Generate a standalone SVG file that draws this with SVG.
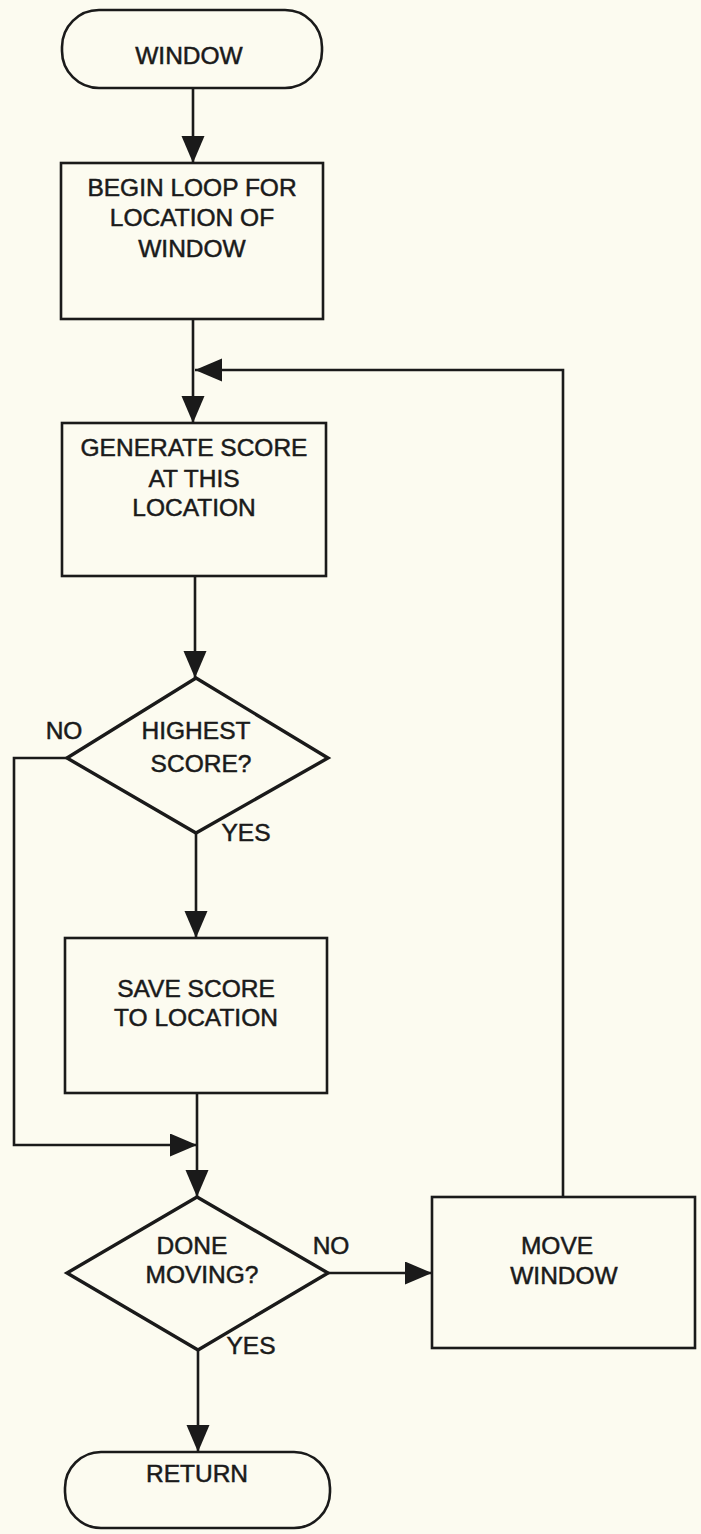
<svg xmlns="http://www.w3.org/2000/svg" width="701" height="1534" viewBox="0 0 701 1534">
<style>
.shape{fill:none;stroke:#1a1a1a;stroke-width:2.6}
.dia{fill:none;stroke:#1a1a1a;stroke-width:3.4;stroke-linejoin:miter}
.conn{fill:none;stroke:#1a1a1a;stroke-width:2.6}
text{font-family:"Liberation Sans",Arial,sans-serif;font-size:24.5px;fill:#1a1a1a;stroke:#1a1a1a;stroke-width:0.5;text-anchor:middle;dominant-baseline:central}
</style>
<defs>
<marker id="arr" markerUnits="userSpaceOnUse" markerWidth="28" markerHeight="24" refX="27" refY="11.5" orient="auto">
<path d="M0,0 L27,11.5 L0,23 z" fill="#1a1a1a"/>
</marker>
</defs>
<rect width="701" height="1534" fill="#fcfbf0"/>
<g id="connectors">
<path class="conn" d="M193,88 V163" marker-end="url(#arr)"/>
<path class="conn" d="M193,319 V423" marker-end="url(#arr)"/>
<path class="conn" d="M563,1197 V370 H195" marker-end="url(#arr)"/>
<path class="conn" d="M195,576 V678" marker-end="url(#arr)"/>
<path class="conn" d="M196,833 V938" marker-end="url(#arr)"/>
<path class="conn" d="M67,758 H14 V1145 H197" marker-end="url(#arr)"/>
<path class="conn" d="M197,1093 V1197" marker-end="url(#arr)"/>
<path class="conn" d="M328,1273 H432" marker-end="url(#arr)"/>
<path class="conn" d="M198,1350 V1452" marker-end="url(#arr)"/>
<text x="64" y="730">NO</text>
<text x="246" y="832">YES</text>
<text x="331" y="1245">NO</text>
<text x="251" y="1345">YES</text>
</g>
<g id="start">
<rect class="shape" x="62" y="10" width="260" height="78" rx="37" ry="37"/>
<text x="189" y="55">WINDOW</text>
</g>
<g id="begin-loop">
<rect class="shape" x="61" y="163" width="262" height="156"/>
<text x="192" y="187">BEGIN LOOP FOR</text>
<text x="192" y="217">LOCATION OF</text>
<text x="192" y="248">WINDOW</text>
</g>
<g id="generate-score">
<rect class="shape" x="62" y="423" width="264" height="153"/>
<text x="194" y="447">GENERATE SCORE</text>
<text x="194" y="478">AT THIS</text>
<text x="194" y="507">LOCATION</text>
</g>
<g id="highest-score">
<polygon class="dia" points="196,678 328,758 196,833 67,758"/>
<text x="196" y="730">HIGHEST</text>
<text x="201" y="763">SCORE?</text>
</g>
<g id="save-score">
<rect class="shape" x="65" y="938" width="262" height="155"/>
<text x="196" y="988">SAVE SCORE</text>
<text x="196" y="1017">TO LOCATION</text>
</g>
<g id="done-moving">
<polygon class="dia" points="197,1197 328,1273 198,1350 67,1273"/>
<text x="192" y="1245">DONE</text>
<text x="202" y="1274">MOVING?</text>
</g>
<g id="move-window">
<rect class="shape" x="432" y="1197" width="263" height="151"/>
<text x="557" y="1245">MOVE</text>
<text x="564" y="1275">WINDOW</text>
</g>
<g id="return">
<rect class="shape" x="65" y="1452" width="265" height="76" rx="36" ry="36"/>
<text x="197" y="1473">RETURN</text>
</g>
</svg>
